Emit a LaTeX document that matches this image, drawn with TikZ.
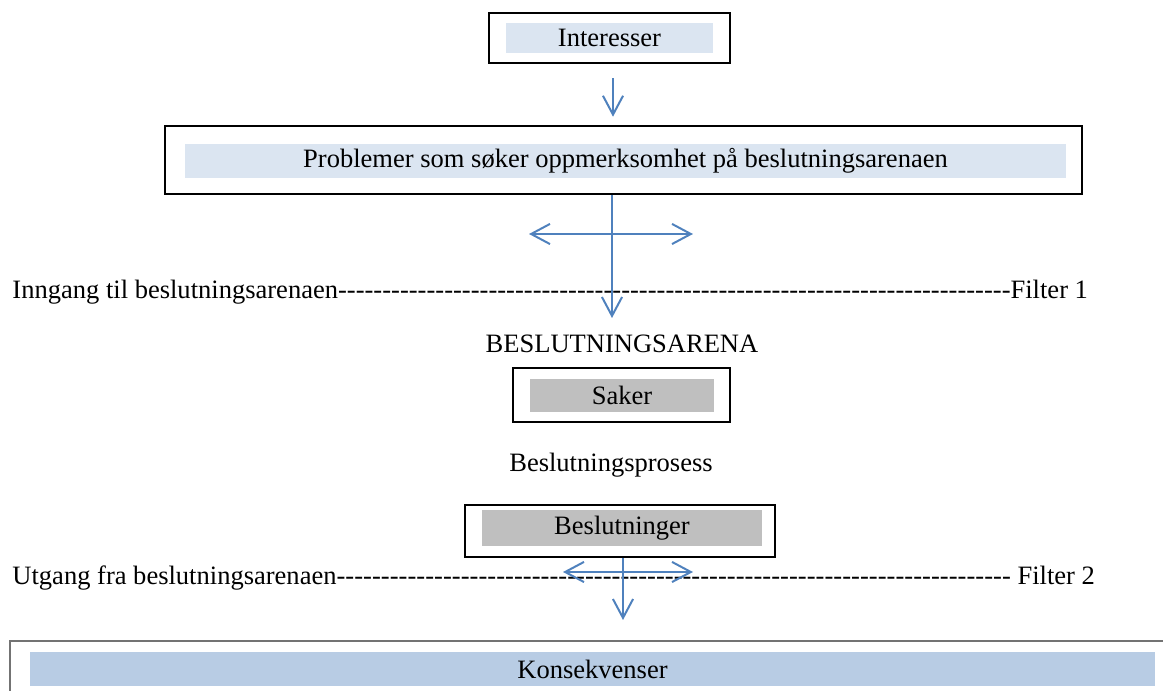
\documentclass[tikz,border=0pt]{standalone}
\usepackage{fontspec}
\setmainfont{Liberation Serif}
\usetikzlibrary{arrows.meta,fit}
\definecolor{lysblaa}{HTML}{DBE5F1}
\definecolor{blaa}{HTML}{B8CCE4}
\definecolor{graa}{HTML}{BFBFBF}
\definecolor{pil}{HTML}{4F81BD}
\tikzset{
  ramme/.style={draw=black, line width=1.1pt, inner sep=0pt},
  felt/.style={inner sep=0pt},
  tekst/.style={inner sep=0pt, font=\fontsize{12pt}{14pt}\selectfont},
  pilstrek/.style={draw=pil, line width=0.9pt, -{Straight Barb[length=0.3cm,width=0.32cm]}},
  pilbegge/.style={draw=pil, line width=0.9pt, {Straight Barb[length=0.3cm,width=0.32cm]}-{Straight Barb[length=0.3cm,width=0.32cm]}}
}
\begin{document}
\begin{tikzpicture}[x=0.015906cm, y=-0.015906cm]
\useasboundingbox (0,0) rectangle (1163,691);
% boksene
\node[ramme, fit={(489,13) (730,63)}] (interesser) {};
\node[felt, fill=lysblaa, fit={(506,23) (713,53)}, label={[tekst]center:Interesser}] (interessertekst) {};
\node[ramme, line width=1pt, fit={(165,126) (1082,194)}] (problemer) {};
\node[felt, fill=lysblaa, fit={(185,144) (1066,178)}, label={[tekst]center:Problemer som søker oppmerksomhet på beslutningsarenaen}] (problemertekst) {};
\node[ramme, line width=1pt, fit={(513,368) (730,422)}] (saker) {};
\node[felt, fill=graa, fit={(530,379) (714,412)}, label={[tekst]center:Saker}] (sakertekst) {};
\node[ramme, line width=1pt, fit={(465,505) (775,557)}] (beslutninger) {};
\node[felt, fill=graa, fit={(482,510) (762,546)}, label={[tekst]center:Beslutninger}] (beslutningertekst) {};
\begin{scope}
\clip (0,0) rectangle (1163,691);
\node[ramme, draw=black!55, line width=0.7pt, fit={(10,641) (1180,710)}] (konsekvenser) {};
\end{scope}
\node[felt, fill=blaa, fit={(30,652) (1155,686)}, label={[tekst]center:Konsekvenser}] (konsekvensertekst) {};
% tekstlinjer
\node[tekst, anchor=base west] (inngang) at (12,299) {\makebox[17.10cm]{Inngang til beslutningsarenaen\xleaders\hbox{-}\hfill Filter 1}};
\node[tekst, anchor=base] (arena) at (622,353) {BESLUTNINGSARENA};
\node[tekst, anchor=base] (prosess) at (611,472) {Beslutningsprosess};
\node[tekst, anchor=base west] (utgang) at (12,585) {\makebox[17.21cm]{Utgang fra beslutningsarenaen\xleaders\hbox{-}\hfill\ Filter 2}};
% pilene
\coordinate (akse) at (613,0);
\coordinate (inn) at (612,318);
\coordinate (innV) at (529,234);
\coordinate (innH) at (693,234);
\coordinate (ut) at (623,620);
\coordinate (utV) at (563,572);
\coordinate (utH) at (693,572);
\draw[pilstrek, shorten <=0.22cm, shorten >=0.13cm] (interesser.south -| akse) -- (problemer.north -| akse);
\draw[pilstrek] (problemer.south -| inn) -- (inn);
\draw[pilbegge] (innV) -- (innH);
\draw[pilstrek] (beslutninger.south -| ut) -- (ut);
\draw[pilbegge] (utV) -- (utH);
\end{tikzpicture}
\end{document}
